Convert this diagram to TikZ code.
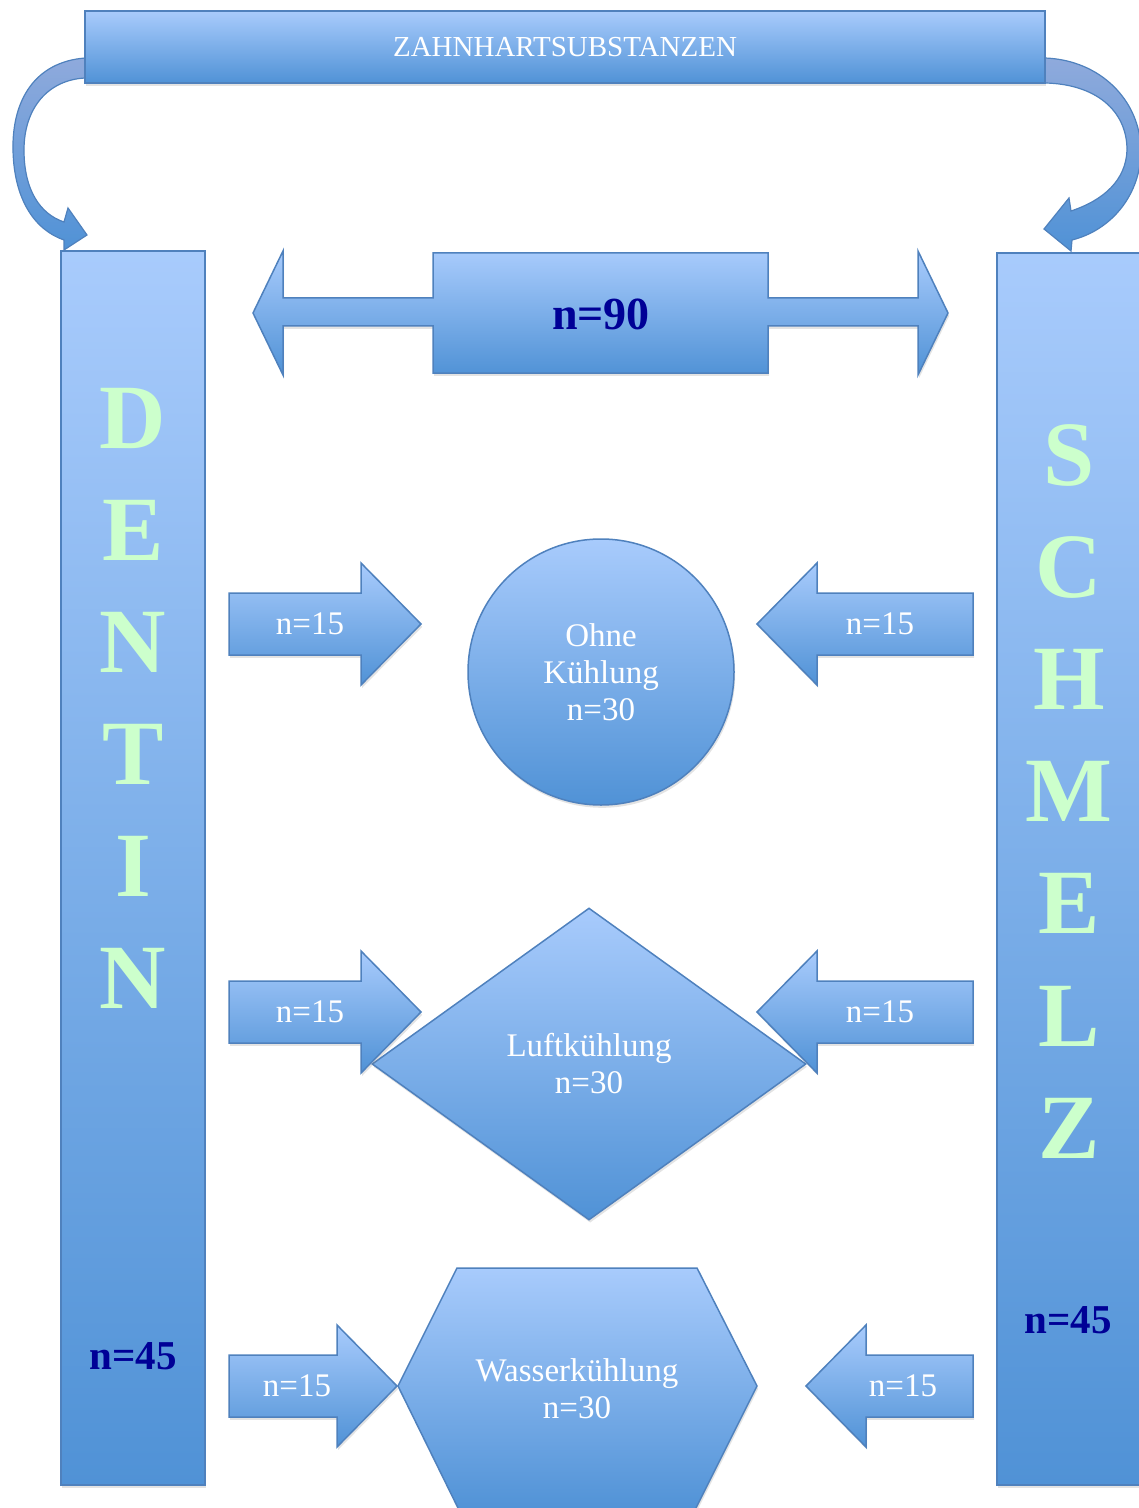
\documentclass[tikz,border=0pt]{standalone}
\usepackage{fontspec}
\setmainfont{Liberation Serif}
\usetikzlibrary{shapes.geometric,shadows}
\definecolor{gradtop}{RGB}{168,203,252}
\definecolor{gradbot}{RGB}{80,146,214}
\definecolor{backtop}{RGB}{143,170,220}
\definecolor{edgeblue}{RGB}{79,129,189}
\definecolor{lettergreen}{RGB}{204,255,204}
\definecolor{countnavy}{RGB}{0,0,150}
\tikzset{
  block/.style={draw=edgeblue, line width=0.75pt, top color=gradtop, bottom color=gradbot,
    drop shadow={shadow xshift=0.6pt, shadow yshift=-1.4pt, opacity=0.22}},
  curvearrow/.style={draw=edgeblue, line width=0.6pt, top color=backtop, bottom color=gradbot},
  nlabel/.style={text=white, align=center, font=\fontsize{16.5}{18.5}\selectfont},
  titletext/.style={text=white, font=\fontsize{14.5}{17}\selectfont},
  bigletter/.style={text=lettergreen, inner sep=0pt, font=\bfseries\fontsize{46}{50}\selectfont},
  countlabel/.style={text=countnavy, font=\bfseries\fontsize{20.5}{24}\selectfont}
}

\begin{document}
\begin{tikzpicture}[x=0.5pt,y=-0.5pt]
\useasboundingbox (0,0) rectangle (1139,1508);
\clip (0,0) rectangle (1139,1508);

% curved arrows from the title bar to both columns
\path[curvearrow] (85,58) .. controls (35,62) and (12,100) .. (13,150)
  .. controls (14,200) and (35,230) .. (64,240) -- (64,250) -- (87,235) -- (68,208) -- (64,222)
  .. controls (40,214) and (24,190) .. (24,150) .. controls (24,108) and (48,80) .. (85,78) -- cycle;
\path[curvearrow] (1045,58) .. controls (1100,60) and (1140,100) .. (1141,150)
  .. controls (1141,194) and (1112,230) .. (1072,240) -- (1071,251) -- (1044,229) -- (1069,198) -- (1071,211)
  .. controls (1104,200) and (1126,180) .. (1127,150) .. controls (1127,110) and (1095,84) .. (1045,83) -- cycle;

% title bar
\node[block, titletext, minimum width=480pt, minimum height=36pt, inner sep=0pt] (bar) at (565,47) {ZAHNHARTSUBSTANZEN};

% columns
\node[block, minimum width=72pt, minimum height=617pt, inner sep=0pt] (dentin) at (133,868) {};
\node[block, minimum width=72pt, minimum height=616pt, inner sep=0pt] (schmelz) at (1069,869) {};
\foreach \ch [count=\i from 0] in {D,E,N,T,I,N}
  \node[bigletter] (den\i) at (133,418+112*\i) {\ch};
\foreach \ch [count=\i from 0] in {S,C,H,M,E,L,Z}
  \node[bigletter] (sch\i) at (1069,455+112.2*\i) {\ch};
\node[countlabel] (dentinn) at (133,1356) {n=45};
\node[countlabel] (schmelzn) at (1068,1320) {n=45};

% double arrow
\path[block] (253,313) -- (283,251) -- (283,298) -- (433,298) -- (433,253) -- (768,253) -- (768,298)
  -- (918,298) -- (918,251) -- (948,313) -- (918,375) -- (918,326) -- (768,326) -- (768,373)
  -- (433,373) -- (433,326) -- (283,326) -- (283,375) -- cycle;
\node[countlabel, font=\bfseries\fontsize{23}{26}\selectfont] (total) at (601,314) {n=90};

% groups
\node[block, circle, minimum size=133pt, inner sep=0pt, nlabel] (ohne) at (601,672) {Ohne\\Kühlung\\n=30};
\node[block, diamond, minimum width=217pt, minimum height=156pt, inner sep=0pt, nlabel] (luft) at (589,1064) {Luftkühlung\\n=30};
\path[block] (457,1268) -- (697,1268) -- (757,1386) -- (694,1512) -- (460,1512) -- (398,1386) -- cycle;
\node[nlabel] (wasser) at (577,1389) {Wasserkühlung\\n=30};

% block arrows
\foreach \yc/\hb/\tip in {624/361/421, 1012/361/421, 1386/337/397}
  \path[block] (229,\yc-31) -- (\hb,\yc-31) -- (\hb,\yc-61) -- (\tip,\yc) -- (\hb,\yc+61)
    -- (\hb,\yc+31) -- (229,\yc+31) -- cycle;
\foreach \yc/\hb/\tip in {624/817/757, 1012/817/757, 1386/866/806}
  \path[block] (973,\yc-31) -- (\hb,\yc-31) -- (\hb,\yc-61) -- (\tip,\yc) -- (\hb,\yc+61)
    -- (\hb,\yc+31) -- (973,\yc+31) -- cycle;
\node[nlabel] (dl1) at (310,624) {n=15};
\node[nlabel] (sl1) at (880,624) {n=15};
\node[nlabel] (dl2) at (310,1012) {n=15};
\node[nlabel] (sl2) at (880,1012) {n=15};
\node[nlabel] (dl3) at (297,1386) {n=15};
\node[nlabel] (sl3) at (903,1386) {n=15};

\end{tikzpicture}
\end{document}
